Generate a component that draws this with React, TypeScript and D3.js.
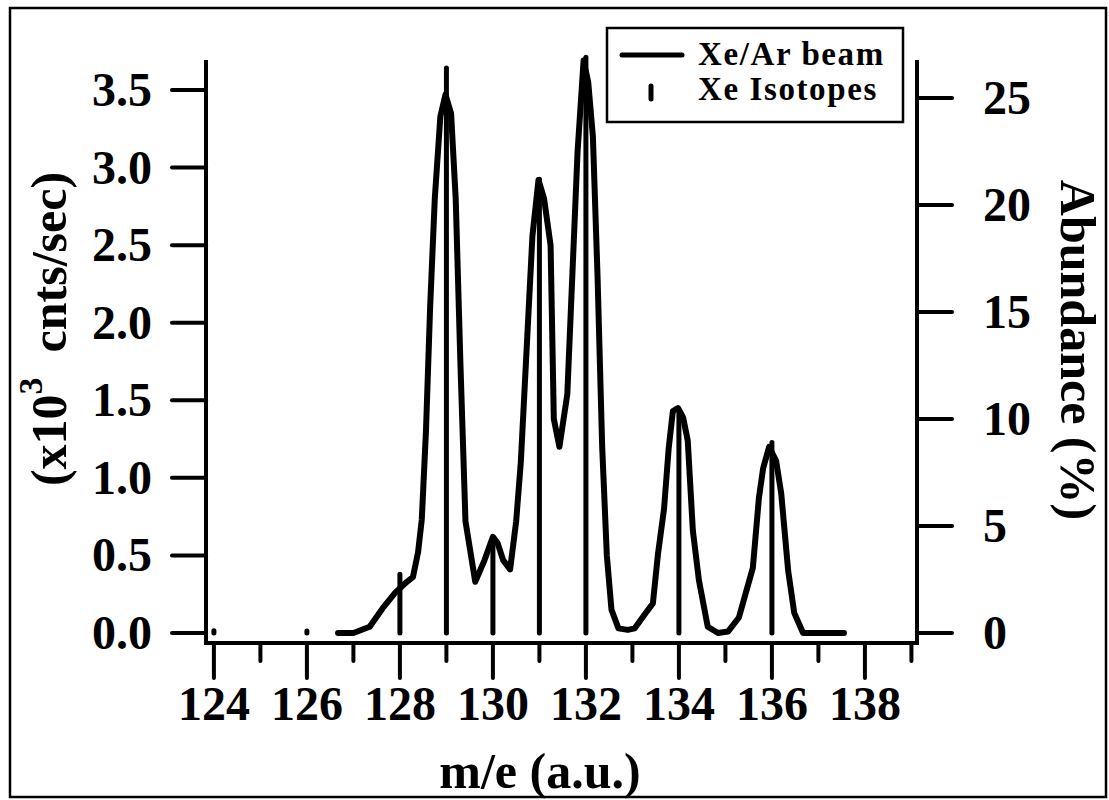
import React from "react";
import * as d3 from "d3";

// Xe/Ar beam mass spectrum (x10^3 counts/sec) vs m/e
const beamMass = [126.67, 127.0, 127.35, 127.63, 127.9, 128.15, 128.28, 128.39, 128.47, 128.56, 128.65, 128.75, 128.87, 128.98, 129.1, 129.2, 129.3, 129.41, 129.62, 129.82, 130.0, 130.1, 130.22, 130.37, 130.5, 130.6, 130.72, 130.85, 130.98, 131.1, 131.24, 131.31, 131.43, 131.6, 131.72, 131.82, 131.95, 132.05, 132.15, 132.25, 132.35, 132.45, 132.55, 132.7, 132.9, 133.05, 133.29, 133.44, 133.55, 133.68, 133.78, 133.87, 133.98, 134.09, 134.19, 134.3, 134.43, 134.62, 134.84, 135.06, 135.29, 135.44, 135.59, 135.72, 135.81, 135.94, 136.09, 136.2, 136.35, 136.48, 136.67, 137.55];
const beamCounts = [0, 0, 0.04, 0.16, 0.26, 0.33, 0.36, 0.52, 0.73, 1.3, 2.1, 2.8, 3.33, 3.47, 3.35, 2.8, 1.75, 0.72, 0.33, 0.47, 0.62, 0.58, 0.47, 0.41, 0.72, 1.1, 1.8, 2.56, 2.92, 2.8, 2.5, 1.38, 1.2, 1.54, 2.39, 3.1, 3.69, 3.55, 3.2, 2.3, 1.2, 0.5, 0.15, 0.03, 0.02, 0.03, 0.13, 0.19, 0.51, 0.8, 1.19, 1.43, 1.45, 1.39, 1.24, 0.66, 0.34, 0.04, 0, 0.01, 0.1, 0.26, 0.42, 0.87, 1.06, 1.2, 1.11, 0.9, 0.4, 0.13, 0, 0];

// Xe isotopes: mass and natural abundance (%)
const isotopeMass = [124, 126, 128, 129, 130, 131, 132, 134, 136];
const isotopeAbundance = [0.1, 0.09, 2.75, 26.4, 4.45, 21.2, 26.9, 10.4, 8.9];

// Tick values
const xMajorTicks = [124, 126, 128, 130, 132, 134, 136, 138];
const xMinorTicks = [125, 127, 129, 131, 133, 135, 137, 139];
const yLeftTicks = [0, 0.5, 1.0, 1.5, 2.0, 2.5, 3.0, 3.5];
const yRightTicks = [0, 5, 10, 15, 20, 25];

const legendLabels = ["Xe/Ar beam", "Xe Isotopes"];

const FONT = "'Liberation Serif', 'Times New Roman', Times, serif";

export default function App() {
  const W = 1109;
  const H = 800;
  const x = d3.scaleLinear().domain([123.83, 139.12]).range([206, 917]);
  const yL = d3.scaleLinear().domain([0, 3.5]).range([633, 90]);
  const yR = d3.scaleLinear().domain([0, 25]).range([633, 98]);

  const axisY = 643;
  const axisTop = 60;
  const leftX = x.range()[0];
  const rightX = x.range()[1];

  const pts: [number, number][] = beamMass.map((m, i) => [m, beamCounts[i]]);
  const line = d3
    .line<[number, number]>()
    .x((d) => x(d[0]))
    .y((d) => yL(d[1]));

  const fmtL = d3.format(".1f");

  return (
    <svg
      width={W}
      height={H}
      style={{ position: "absolute", left: 0, top: 0, background: "#fff" }}
      fontFamily={FONT}
      fontWeight="bold"
    >
      <rect x={0} y={0} width={W} height={H} fill="#fff" />
      {/* outer frame */}
      <rect x={10} y={8} width={1096} height={789} fill="none" stroke="#000" strokeWidth={2.5} />

      {/* isotope sticks */}
      {isotopeMass.map((m, i) => (
        <line
          key={"iso" + m}
          x1={x(m)}
          x2={x(m)}
          y1={yR(0)}
          y2={yR(isotopeAbundance[i])}
          stroke="#000"
          strokeWidth={5}
          strokeLinecap="round"
        />
      ))}

      {/* beam curve */}
      <path
        d={line(pts) || ""}
        fill="none"
        stroke="#000"
        strokeWidth={6}
        strokeLinejoin="round"
        strokeLinecap="round"
      />

      {/* axes lines */}
      <line x1={leftX} x2={leftX} y1={axisTop} y2={axisY + 2} stroke="#000" strokeWidth={4} />
      <line x1={rightX} x2={rightX} y1={axisTop} y2={axisY + 2} stroke="#000" strokeWidth={4} />
      <line x1={leftX - 2} x2={rightX + 2} y1={axisY} y2={axisY} stroke="#000" strokeWidth={4} />

      {/* x ticks */}
      {xMajorTicks.map((t) => (
        <g key={"xm" + t}>
          <line x1={x(t)} x2={x(t)} y1={axisY} y2={678} stroke="#000" strokeWidth={4} strokeLinecap="round" />
          <text x={x(t)} y={720} fontSize={48} textAnchor="middle">
            {t}
          </text>
        </g>
      ))}
      {xMinorTicks.map((t) => (
        <line key={"xn" + t} x1={x(t)} x2={x(t)} y1={axisY} y2={661} stroke="#000" strokeWidth={4} strokeLinecap="round" />
      ))}

      {/* left ticks */}
      {yLeftTicks.map((t) => (
        <g key={"yl" + t}>
          <line x1={leftX - 34} x2={leftX} y1={yL(t)} y2={yL(t)} stroke="#000" strokeWidth={4} strokeLinecap="round" />
          <text x={152} y={yL(t) + 16} fontSize={48} textAnchor="end">
            {fmtL(t)}
          </text>
        </g>
      ))}

      {/* right ticks */}
      {yRightTicks.map((t) => (
        <g key={"yr" + t}>
          <line x1={rightX} x2={rightX + 35} y1={yR(t)} y2={yR(t)} stroke="#000" strokeWidth={4} strokeLinecap="round" />
          <text x={983} y={yR(t) + 16} fontSize={48} textAnchor="start">
            {t}
          </text>
        </g>
      ))}

      {/* axis titles */}
      <text x={540} y={788} fontSize={50} textAnchor="middle">
        m/e (a.u.)
      </text>
      <text transform="translate(66,329) rotate(-90)" fontSize={50} textAnchor="middle">
        (x10
        <tspan fontSize={34} dy={-24}>3</tspan>
        <tspan dy={24}>{"\u00a0 cnts/sec)"}</tspan>
      </text>
      <text transform="translate(1061,350) rotate(90)" fontSize={50} textAnchor="middle">
        Abundance (%)
      </text>

      {/* legend */}
      <rect x={607} y={28} width={296} height={94} fill="#fff" stroke="#000" strokeWidth={2.5} />
      <line x1={622} x2={682} y1={55} y2={55} stroke="#000" strokeWidth={5} strokeLinecap="round" />
      <line x1={651} x2={651} y1={86} y2={99} stroke="#000" strokeWidth={5} strokeLinecap="round" />
      <text x={698} y={65} fontSize={33} letterSpacing={1.6}>
        {legendLabels[0]}
      </text>
      <text x={698} y={100} fontSize={33} letterSpacing={1.6}>
        {legendLabels[1]}
      </text>
    </svg>
  );
}
